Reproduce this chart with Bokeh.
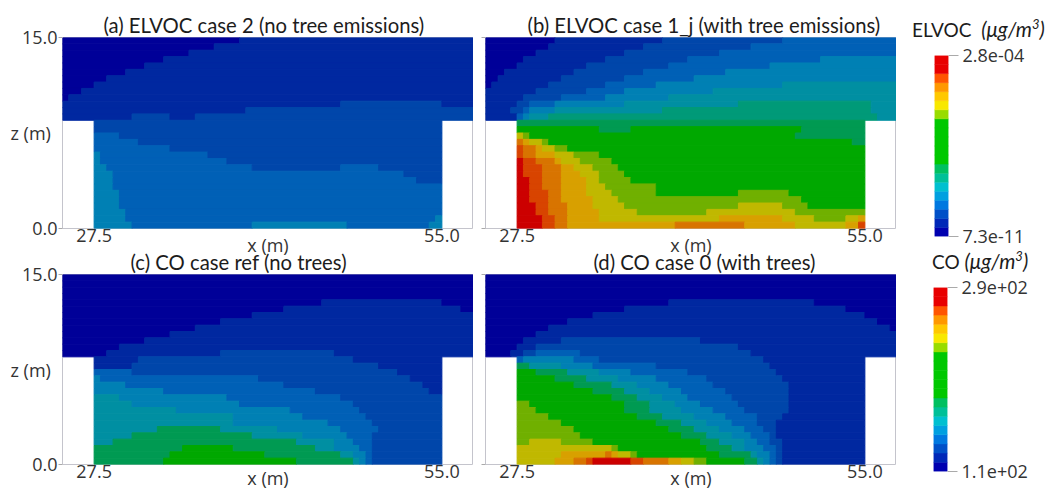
from bokeh.embed import file_html
from bokeh.resources import INLINE
from bokeh.layouts import column, row
from bokeh.models import ColumnDataSource, Div, FixedTicker, NumeralTickFormatter, Range1d, Title
from bokeh.plotting import figure

# Each row (top to bottom) lists: level, end column, level, end column ...
ROWS_A = [
    "0 28 1 65", "0 24 1 65", "0 20 1 65", "0 16 1 65", "0 13 1 65", "0 10 1 65",
    "0 7 1 65", "0 5 1 65", "0 3 1 65", "0 1 1 65", "1 44 2 60 1 65", "1 29 2 65",
    "1 11 2 17 1 21 2 65", "2 65", "2 65", "3 9 2 65", "3 12 2 65", "3 17 2 65",
    "4 6 3 23 2 65", "4 6 3 26 2 65", "4 7 3 30 2 44 3 50 2 65", "4 8 3 54 2 65",
    "4 8 3 56 2 65", "4 8 3 65", "4 9 3 65", "4 9 3 65", "4 9 3 65", "4 10 3 65",
    "4 10 3 59 4 65", "4 11 3 30 4 45 3 58 4 65",
]
ROWS_B = [
    "0 11 1 28 2 47 3 65", "0 10 1 25 2 42 3 65", "0 8 1 22 2 37 3 65",
    "0 6 1 19 2 32 3 53 4 65", "0 5 1 16 2 29 3 45 4 65", "0 3 1 14 2 25 3 38 4 65",
    "0 2 1 12 2 22 3 33 4 65", "0 1 1 10 2 19 3 27 4 47 5 65", "1 8 2 16 3 22 4 36 5 65",
    "1 6 2 12 3 19 4 29 5 65", "1 5 2 7 3 11 4 22 5 40 6 61 5 65",
    "1 4 2 6 3 7 4 11 5 28 6 61 5 65", "1 5 3 6 4 7 5 10 6 62 5 65", "7 65",
    "8 18 7 23 8 50 7 65", "10 6 9 7 8 49 7 65", "12 6 11 7 10 9 9 10 8 58 7 65",
    "13 6 12 8 11 9 10 11 9 13 8 65", "13 6 12 8 11 11 10 14 9 18 8 65",
    "14 6 13 8 12 11 11 12 10 15 9 20 8 65", "14 6 13 9 12 12 11 14 10 17 9 21 8 65",
    "14 6 13 9 12 12 11 15 10 18 9 22 8 65", "14 7 13 9 12 12 11 16 10 18 9 23 8 65",
    "14 7 13 9 12 12 11 16 10 19 9 27 8 65", "14 7 13 10 12 12 11 16 10 20 9 27 8 40 9 48 8 65",
    "14 7 13 10 12 12 11 17 10 21 9 50 8 65", "14 8 13 10 12 13 11 17 10 22 9 40 10 47 9 51 8 65",
    "14 8 13 10 12 13 11 18 10 24 9 35 10 49 9 65",
    "14 9 13 11 12 13 11 18 10 37 11 47 10 52 9 57 10 59 11 65",
    "14 9 13 11 12 13 11 30 12 41 11 49 10 57 11 59 13 65",
]
ROWS_C = [
    "0 65", "0 65", "0 65", "0 65", "0 41 1 60 0 65", "0 35 1 63 0 65", "0 30 1 65",
    "0 25 1 65", "0 21 1 65", "0 17 1 65", "0 13 1 65", "0 9 1 65", "0 7 1 25 2 43 1 65",
    "1 12 2 46 1 65", "1 11 2 50 1 65", "3 11 2 53 1 65", "4 6 3 31 2 55 1 65",
    "4 10 3 35 2 57 1 65", "4 16 3 40 2 58 1 65", "5 9 4 26 3 44 2 65", "5 11 4 28 3 46 2 65",
    "5 18 4 36 3 47 2 65", "5 27 4 38 3 48 2 65", "5 27 4 42 3 49 2 65",
    "5 15 7 25 5 34 4 44 3 50 2 65", "5 11 7 30 5 38 4 45 3 49 2 65",
    "5 8 7 37 5 43 4 46 3 49 2 65", "7 19 8 27 7 40 5 43 4 47 3 49 2 65",
    "7 17 8 32 7 44 5 46 4 48 3 49 2 65", "7 16 8 37 7 46 5 47 4 48 3 49 2 65",
]
ROWS_D = [
    "0 65", "0 65", "0 65", "0 65", "0 29 1 52 0 65", "0 22 1 57 0 65", "0 17 1 60 0 65",
    "0 13 1 62 0 65", "0 10 1 64 0 65", "0 8 1 65", "0 6 1 12 2 34 1 65", "0 5 1 8 2 40 1 65",
    "0 4 1 6 2 8 3 15 2 42 1 65", "3 6 4 14 3 18 2 44 1 65", "7 7 5 12 4 17 3 27 2 45 1 65",
    "8 8 7 13 5 18 4 23 3 32 2 46 1 65", "8 11 7 16 5 21 4 27 3 35 2 47 1 65",
    "8 14 7 20 5 24 4 29 3 36 2 48 1 65", "8 17 7 22 5 26 4 31 3 38 2 48 1 65",
    "8 20 7 24 5 28 4 32 3 39 2 48 1 65", "9 7 8 22 7 26 5 30 4 34 3 40 2 48 1 65",
    "9 8 8 22 7 26 5 31 4 36 3 41 2 48 1 65", "9 10 8 24 7 28 5 33 4 38 3 43 2 47 1 65",
    "9 12 8 27 7 31 5 35 4 39 3 43 2 46 1 65", "9 14 8 29 7 33 5 37 4 41 3 44 2 46 1 65",
    "9 15 8 31 7 35 5 39 4 42 3 45 2 46 1 65", "9 7 10 12 9 17 8 34 7 37 5 41 4 43 3 45 2 47 1 65",
    "10 20 9 21 8 35 7 39 5 41 4 44 3 46 2 47 1 65",
    "10 12 11 19 12 20 11 21 10 23 9 24 8 37 7 42 5 43 4 45 3 46 2 47 1 65",
    "10 11 11 14 12 16 13 17 14 23 13 25 12 29 11 31 10 33 9 35 8 41 7 43 5 44 4 45 3 46 2 47 1 65",
]
PANEL_COLORS = ["#000098", "#0028a0", "#0046aa", "#0060b6", "#0080b4", "#008fa2", "#009a78",
                "#009a52", "#00a800", "#70b000", "#c0b800", "#d8a000", "#d87400", "#d84400", "#cc0000"]
BAR_COLORS = ["#0000b0", "#0028b8", "#0050c8", "#0078e0", "#00a0e0", "#00c0d0", "#00c098", "#00c060",
              "#00c800", "#00c800", "#00c800", "#00c800", "#00c800", "#98dc00", "#f8e800", "#ffc800",
              "#ff9800", "#ff5500", "#e80000", "#e80000"]
TITLES = ["(a) ELVOC case 2 (no tree emissions)", "(b) ELVOC case 1_j (with tree emissions)",
          "(c) CO case ref (no trees)", "(d) CO case 0 (with trees)"]
X_TICKS = [27.5, 55.0]
Z_TICKS = [0.0, 15.0]
ELVOC_LABELS = ["7.3e-11", "2.8e-04"]
CO_LABELS = ["1.1e+02", "2.9e+02"]

CELL = 0.5
X0, X1, Z1 = 25.0, 57.5, 15.0
TICK_FONT, TEXT_FONT = "Open Sans", "Lato"


def panel(rows, title, offset, left, top, frame_h, show_left, lower):
    lefts, rights, tops, bottoms, colors = [], [], [], [], []
    for r, text in enumerate(rows):
        vals = [int(v) for v in text.split()]
        start = 0
        for lev, end in zip(vals[0::2], vals[1::2]):
            a, b = start, end
            if r >= 13:
                a, b = max(a, 5), min(b, 60)
            if b > a:
                lefts.append(X0 + CELL * a)
                rights.append(X0 + CELL * b)
                tops.append(Z1 - CELL * r)
                bottoms.append(Z1 - CELL * (r + 1))
                colors.append(PANEL_COLORS[lev])
            start = end
    p = figure(frame_width=411, frame_height=frame_h, x_range=Range1d(X0, X1), y_range=Range1d(0, Z1),
               output_backend="svg", toolbar_location=None, min_border_left=left, min_border_right=0,
               min_border_top=top, min_border_bottom=20, background_fill_color="white",
               border_fill_color=None if lower else "white",
               margin=(-4, 0, -6, 0) if lower else (0, 0, -12, 0))
    src = ColumnDataSource(dict(left=lefts, right=rights, top=tops, bottom=bottoms, color=colors))
    p.quad(left="left", right="right", top="top", bottom="bottom", fill_color="color",
           line_color="color", line_width=1, source=src)
    p.grid.visible = False
    p.outline_line_color = "#c4c4cc"
    p.title = Title(text=title, align="left", offset=offset, text_font=TEXT_FONT, text_font_size="20.3px",
                    text_font_style="normal", text_color="#1c1c1c", standoff=2)
    p.xaxis.ticker = FixedTicker(ticks=X_TICKS)
    p.yaxis.ticker = FixedTicker(ticks=Z_TICKS)
    p.xaxis.formatter = NumeralTickFormatter(format="0.0")
    p.yaxis.formatter = NumeralTickFormatter(format="0.0")
    for ax in (p.xaxis[0], p.yaxis[0]):
        ax.axis_line_color = None
        ax.minor_tick_line_color = None
        ax.major_label_text_font = TICK_FONT
        ax.major_label_text_font_size = "18px"
        ax.major_label_text_color = "#333333"
        ax.axis_label_text_font = TICK_FONT
        ax.axis_label_text_font_size = "18px"
        ax.axis_label_text_font_style = "normal"
        ax.axis_label_text_color = "#333333"
    p.xaxis.major_tick_line_color = None
    p.xaxis.major_tick_out = 0
    p.xaxis.major_label_standoff = 0
    p.xaxis.axis_label = "x (m)"
    p.xaxis.axis_label_standoff = -15 if lower else -12
    p.yaxis.major_tick_line_color = "#aaaaaa"
    p.yaxis.major_tick_out = 4
    p.yaxis.major_tick_in = 0
    p.yaxis.major_label_standoff = 1
    if show_left:
        p.yaxis.axis_label = "z (m)"
        p.yaxis.axis_label_orientation = "horizontal"
        p.yaxis.axis_label_standoff = -32
    else:
        p.yaxis.major_label_text_font_size = "0px"
        p.yaxis.major_label_text_color = None
        p.yaxis.major_label_standoff = 0
    return p


def bar_panel(head_h, head_pad, head_html, top, frame_h, bottom, labels, bar_left):
    ds = ColumnDataSource(dict(b=list(range(len(BAR_COLORS))), t=list(range(1, len(BAR_COLORS) + 1)), c=BAR_COLORS))
    p = figure(frame_width=14, frame_height=frame_h, x_range=Range1d(0, 1), y_range=Range1d(0, len(BAR_COLORS)),
               y_axis_location="right", output_backend="svg", toolbar_location=None, min_border_left=bar_left,
               min_border_right=155 - 14 - bar_left, min_border_top=top, min_border_bottom=bottom,
               outline_line_color=None)
    p.quad(left=0, right=1, bottom="b", top="t", fill_color="c", line_color="c", line_width=0.5, source=ds)
    p.grid.visible = False
    p.xaxis.visible = False
    ax = p.yaxis[0]
    ax.ticker = FixedTicker(ticks=[0, len(BAR_COLORS)])
    ax.major_label_overrides = {0: labels[0], len(BAR_COLORS): labels[1]}
    ax.axis_line_color = None
    ax.minor_tick_line_color = None
    ax.major_tick_line_color = "#aaaaaa"
    ax.major_tick_in = 0
    ax.major_tick_out = 10
    ax.major_label_standoff = 4
    ax.major_label_text_font = TICK_FONT
    ax.major_label_text_font_size = "18px"
    ax.major_label_text_color = "#333333"
    head = Div(text=head_html, width=155, height=head_h, margin=0,
               styles={"font-family": TEXT_FONT, "font-size": "19px", "color": "#1c1c1c", "white-space": "nowrap",
                       "padding-top": f"{head_pad[1]}px", "padding-left": f"{head_pad[0]}px", "line-height": "22px"})
    return column(head, p, spacing=0)


UNIT = "<i style='font-size:20.5px'>(\u03bcg/m<sup style='font-size:13px;line-height:0'>3</sup>)</i>"
a = panel(ROWS_A, TITLES[0], 41, 62, 37, 191, True, False)
b = panel(ROWS_B, TITLES[1], 42, 12, 37, 191, False, False)
c = panel(ROWS_C, TITLES[2], 68, 62, 24, 190, True, True)
d = panel(ROWS_D, TITLES[3], 108, 12, 24, 190, False, True)
c1 = bar_panel(40, (16, 18), "ELVOC&nbsp;&nbsp;" + UNIT, 15, 181, 14, ELVOC_LABELS, 38)
c2 = bar_panel(24, (36, 0), "CO " + UNIT, 13, 184, 18, CO_LABELS, 37)

page = column(row(a, b, c1, spacing=0), row(c, d, c2, spacing=0), spacing=0)
open("out.html", "w").write(file_html(page, INLINE))
